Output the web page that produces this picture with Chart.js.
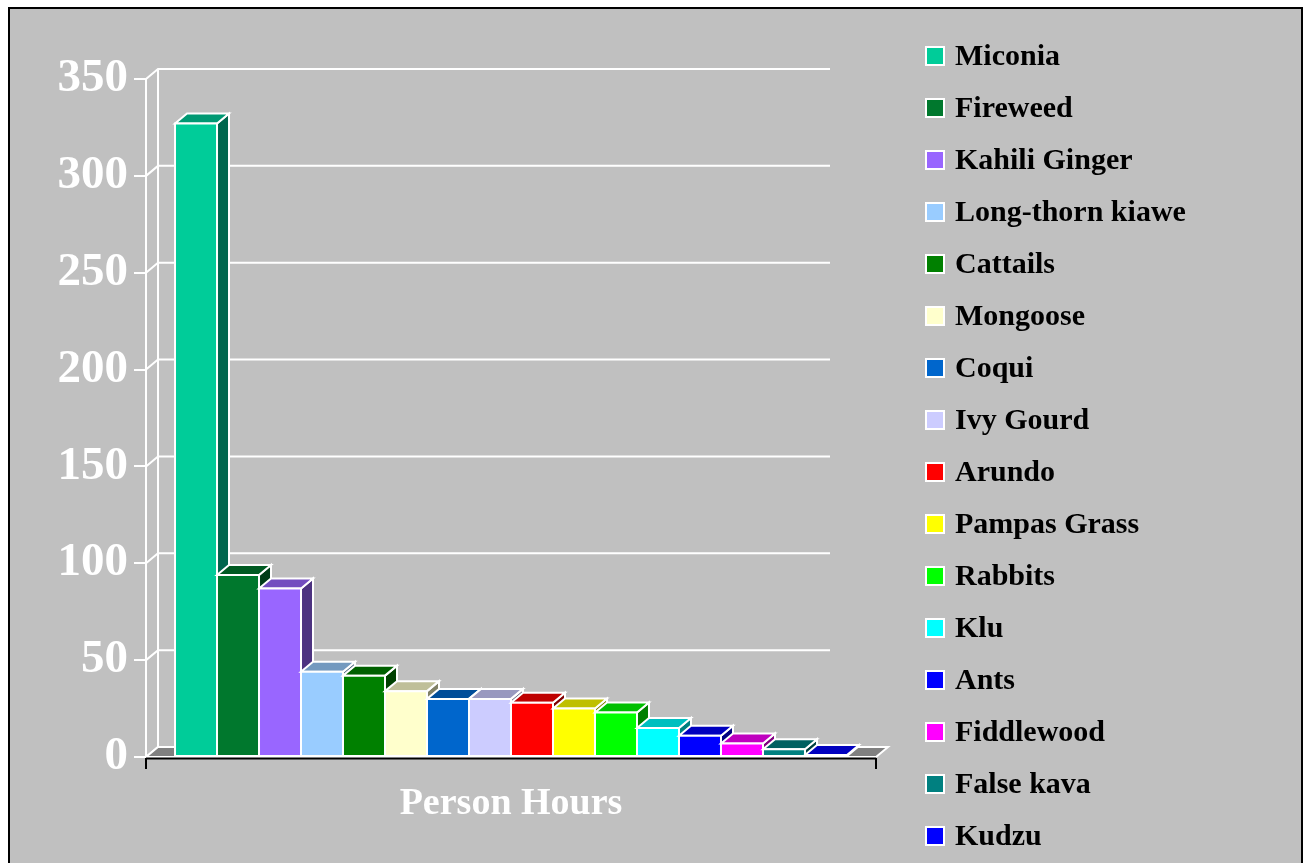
<!DOCTYPE html>
<html>
<head>
<meta charset="utf-8">
<title>Person Hours</title>
<script src="https://cdn.jsdelivr.net/npm/chart.js@4/dist/chart.umd.min.js"></script>
<style>
    html, body { margin:0; padding:0; background:#fff; overflow:hidden; }
    #frame { position:absolute; left:8px; top:7px; width:1291px; height:900px;
             background:#C0C0C0; border:2px solid #000; border-bottom:none; }
    #chart { position:absolute; left:0; top:0; }
</style>
</head>
<body>
<div id="frame"></div>
<canvas id="chart" width="1304" height="863"></canvas>
<script>
// Data
const categories = ['Person Hours'];
const species = ['Miconia','Fireweed','Kahili Ginger','Long-thorn kiawe','Cattails','Mongoose','Coqui','Ivy Gourd',
                 'Arundo','Pampas Grass','Rabbits','Klu','Ants','Fiddlewood','False kava','Kudzu'];
const hours   = [327, 94, 87, 44, 42, 34, 30, 30, 28, 25, 23, 15, 11, 7, 4, 1];
const colors  = ['#00CC99','#00782D','#9966FF','#99CCFF','#008000','#FFFFCC','#0066CC','#CCCCFF',
                 '#FF0000','#FFFF00','#00FF00','#00FFFF','#0000FF','#FF00FF','#008080','#0000FF'];
const yTicks  = [0, 50, 100, 150, 200, 250, 300, 350];

// 3D look
const DX = 12, DY = 10;
const FONT = '"Liberation Serif", "Times New Roman", serif';

function shade(hex, f) {
    const n = parseInt(hex.slice(1), 16);
    const r = Math.round(((n >> 16) & 255) * f), g = Math.round(((n >> 8) & 255) * f), b = Math.round((n & 255) * f);
    return `rgb(${r},${g},${b})`;
}

function poly(ctx, pts, fill) {
    ctx.beginPath();
    ctx.moveTo(pts[0][0], pts[0][1]);
    for (let i = 1; i < pts.length; i++) ctx.lineTo(pts[i][0], pts[i][1]);
    ctx.closePath();
    ctx.fillStyle = fill;
    ctx.fill();
    ctx.stroke();
}

const scene3d = {
    id: 'scene3d',
    beforeDatasetsDraw(chart) {
        const ctx = chart.ctx;
        const {left, right, top, bottom} = chart.chartArea;
        const ys = chart.scales.y;
        ctx.save();
        ctx.strokeStyle = '#fff';
        ctx.lineWidth = 2;

        // back wall + gridlines
        ctx.beginPath();
        ctx.moveTo(left + DX, top - DY);
        ctx.lineTo(left + DX, bottom - DY);
        yTicks.forEach(v => {
            const y = ys.getPixelForValue(v);
            ctx.moveTo(left, y);
            ctx.lineTo(left + DX, y - DY);
            if (v > 0) ctx.lineTo(right - 46, y - DY);
        });
        ctx.stroke();

        // floor
        poly(ctx, [[left, bottom], [right, bottom], [right + DX, bottom - DY], [left + DX, bottom - DY]], '#808080');

        // bars, left to right
        chart.data.datasets.forEach((ds, i) => {
            const meta = chart.getDatasetMeta(i);
            meta.data.forEach(el => {
                const b = el.getProps(['x', 'y', 'base', 'width'], true);
                const l = b.x - b.width / 2, r = b.x + b.width / 2, t = b.y, bt = b.base;
                poly(ctx, [[r, t], [r + DX, t - DY], [r + DX, bt - DY], [r, bt]], shade(ds.backgroundColor, 0.5));
                poly(ctx, [[l, t], [l + DX, t - DY], [r + DX, t - DY], [r, t]], shade(ds.backgroundColor, 0.75));
                poly(ctx, [[l, t], [r, t], [r, bt], [l, bt]], ds.backgroundColor);
            });
        });

        // black floor edge
        ctx.strokeStyle = '#000';
        ctx.beginPath();
        ctx.moveTo(left, bottom + 1.5);
        ctx.lineTo(right, bottom + 1.5);
        ctx.stroke();
        ctx.restore();
        return false;
    },
    afterDraw(chart) {
        // legend
        const ctx = chart.ctx;
        ctx.save();
        ctx.font = 'bold 30px ' + FONT;
        ctx.textBaseline = 'middle';
        ctx.textAlign = 'left';
        chart.data.datasets.forEach((ds, i) => {
            const cy = 56 + 52 * i;
            ctx.fillStyle = ds.backgroundColor;
            ctx.strokeStyle = '#fff';
            ctx.lineWidth = 2;
            ctx.fillRect(926, cy - 9, 18, 18);
            ctx.strokeRect(926, cy - 9, 18, 18);
            ctx.fillStyle = '#000';
            ctx.fillText(ds.label, 955, cy + 1);
        });
        ctx.restore();
    }
};

new Chart(document.getElementById('chart'), {
    type: 'bar',
    data: {
        labels: categories,
        datasets: species.map((s, i) => ({
            label: s,
            data: [hours[i]],
            backgroundColor: colors[i],
            borderColor: '#fff',
            borderWidth: 2
        }))
    },
    options: {
        responsive: false,
        animation: false,
        devicePixelRatio: 1,
        layout: { padding: { left: 0, top: 79, right: 428, bottom: 0 } },
        datasets: { bar: { barPercentage: 1, categoryPercentage: 0.9205 } },
        plugins: { legend: { display: false }, tooltip: { enabled: false } },
        scales: {
            x: {
                afterFit: s => { s.height = 106; },
                grid: { offset: true, drawOnChartArea: false, color: '#000', lineWidth: 2, tickLength: 12 },
                border: { color: '#000', width: 2 },
                ticks: { color: '#fff', font: { family: FONT, size: 38, weight: 'bold' }, padding: 12 }
            },
            y: {
                min: 0, max: 350,
                afterFit: s => { s.width = 146; },
                afterBuildTicks: s => { s.ticks = yTicks.map(v => ({ value: v })); },
                grid: { drawOnChartArea: false, color: '#fff', lineWidth: 2, tickLength: 12 },
                border: { color: '#fff', width: 2 },
                ticks: { color: '#fff', font: { family: FONT, size: 47, weight: 'bold' }, padding: 6 }
            }
        }
    },
    plugins: [scene3d]
});
</script>
</body>
</html>
